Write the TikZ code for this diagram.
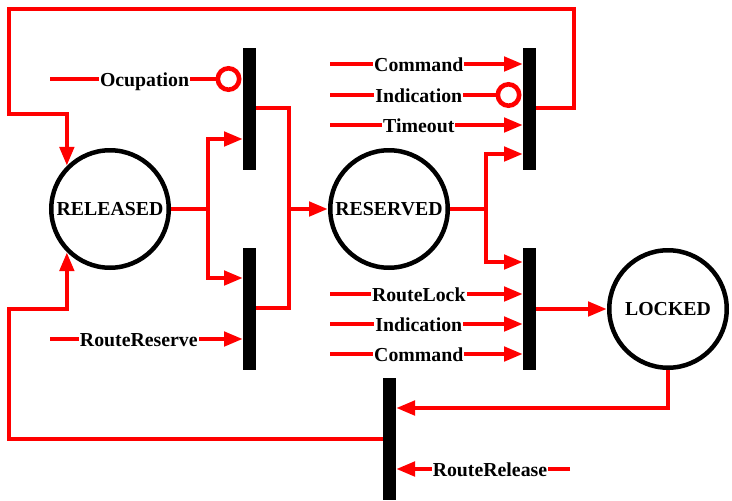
\documentclass[tikz,border=0pt]{standalone}
\usepackage{fontspec}
\setmainfont{Liberation Serif}
\usetikzlibrary{arrows.meta}
\colorlet{arccolor}{red}
\colorlet{barcolor}{black}

\begin{document}
\begin{tikzpicture}
  [x=1pt,y=-1pt,line join=miter,
   % Styles
   place/.style={circle,draw=black,line width=4.5pt,minimum size=117.5pt,inner sep=0pt,
     font=\fontsize{19.8}{22}\selectfont\bfseries},
   transition/.style={rectangle,fill=barcolor,minimum width=13pt,minimum height=122pt,
     inner sep=0pt,outer sep=0pt},
   flow line/.style={draw=arccolor,line width=4.6pt},
   flow/.style={flow line,-{Triangle[length=19pt,width=14pt]}},
   inhibit/.style={flow line,-{Circle[open,length=26pt,width=26pt]},shorten >=1.5pt},
   signal text/.style={fill=white,inner sep=1pt,pos=0.46,text height=15pt,text depth=0pt,
     font=\fontsize{19.8}{22}\selectfont\bfseries}]

  \useasboundingbox (0,0) rectangle (732,501);

  % Places
  \node[place] (released) at (110,209) {RELEASED};
  \node[place] (reserved) at (389,209) {RESERVED};
  \node[place] (locked)   at (668,309) {LOCKED};

  % Transitions
  \node[transition] (t1) at (249.5,109) {};
  \node[transition] (t2) at (249.5,309) {};
  \node[transition] (t3) at (529.5,109) {};
  \node[transition] (t4) at (529.5,309) {};
  \node[transition] (t5) at (389.5,439) {};

  % RELEASED -> RESERVED
  \coordinate (split1) at (208,209);
  \coordinate (merge1) at (289,209);
  \draw[flow line] (released) -- (split1);
  \draw[flow] (split1) |- (t1.west |- 0,139);
  \draw[flow] (split1) |- (t2.west |- 0,278);
  \draw[flow line] (t1.east |- 0,108) -| (merge1);
  \draw[flow line] (t2.east |- 0,308) -| (merge1);
  \draw[flow] (merge1) -- (reserved);

  % RESERVED -> RELEASED / LOCKED
  \coordinate (split2) at (486,209);
  \draw[flow line] (reserved) -- (split2);
  \draw[flow] (split2) |- (t3.west |- 0,154);
  \draw[flow] (split2) |- (t4.west |- 0,262);
  \draw[flow] (t3.east |- 0,108) -| (574,9) -| (9,114) -| (released.135);
  \draw[flow] (t4.east |- locked) -- (locked);

  % LOCKED -> RELEASED
  \draw[flow] (locked.south) |- (t5.east |- 0,408);
  \draw[flow] (t5.west |- 0,439) -| (9,309) -| (released.225);

  % Signals
  \coordinate (ocupation in) at (50,79);
  \draw[inhibit] (ocupation in) -- node[signal text,pos=0.49] {Ocupation} (ocupation in -| t1.west);

  \coordinate (reserve in) at (50,339);
  \draw[flow] (reserve in) -- node[signal text] {RouteReserve} (reserve in -| t2.west);

  \foreach \y/\signal/\kind in {64/Command/flow, 95/Indication/inhibit, 125/Timeout/flow}
  {
    \coordinate (t3 in \y) at (330,\y);
    \draw[\kind] (t3 in \y) -- node[signal text] {\signal} (t3 in \y -| t3.west);
  }

  \foreach \y/\signal in {294/RouteLock, 324/Indication, 354/Command}
  {
    \coordinate (t4 in \y) at (330,\y);
    \draw[flow] (t4 in \y) -- node[signal text] {\signal} (t4 in \y -| t4.west);
  }

  \coordinate (release in) at (570,469);
  \draw[flow] (release in) -- node[signal text] {RouteRelease} (release in -| t5.east);
\end{tikzpicture}
\end{document}
